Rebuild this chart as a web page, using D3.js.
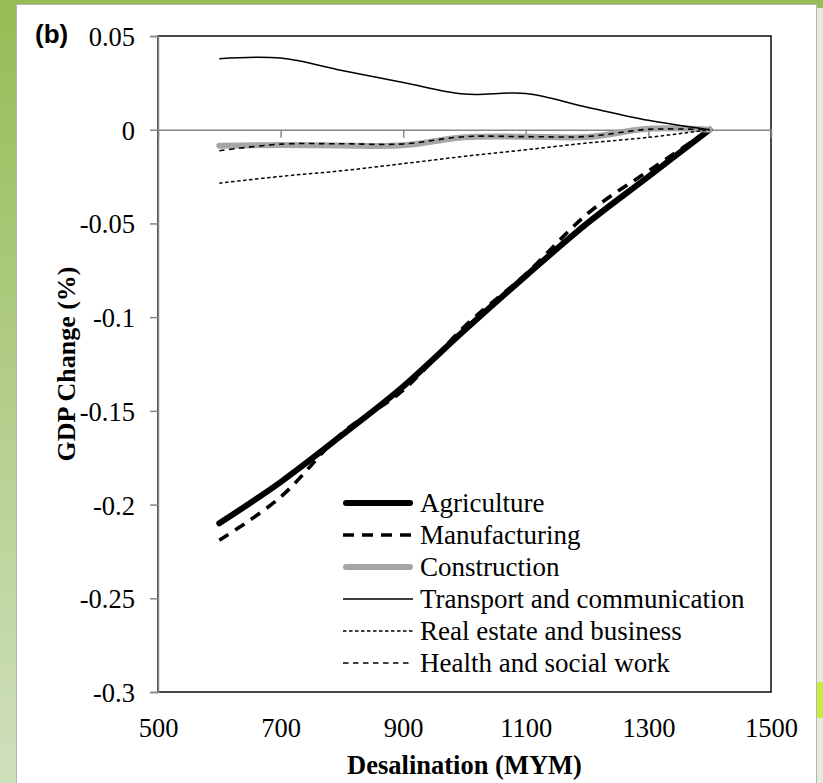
<!DOCTYPE html>
<html>
<head>
<meta charset="utf-8">
<title>GDP change vs desalination</title>
<script src="https://d3js.org/d3.v7.min.js"></script>
<style>
  body { margin: 0; background: #fff; }
  svg { display: block; }
  text { font-family: "Liberation Serif", "Times New Roman", serif; fill: #000; }
</style>
</head>
<body>
<div id="chart"></div>
<script>
// desalination investment (MYM)
const desal = [600, 700, 800, 900, 1000, 1100, 1200, 1300, 1400]

// GDP change (%) per sector
const agriculture   = [-0.210, -0.188, -0.163, -0.137, -0.107, -0.078, -0.050, -0.025, 0]
const manufacturing = [-0.219, -0.196, -0.162, -0.139, -0.105, -0.077, -0.045, -0.022, 0]
const construction  = [-0.0085, -0.0082, -0.0084, -0.0083, -0.0040, -0.0037, -0.0039, 0.0005, 0]
const transport     = [0.0379, 0.0382, 0.0316, 0.0252, 0.0190, 0.0193, 0.0120, 0.0050, 0]
const realEstate    = [-0.0285, -0.0249, -0.0219, -0.0181, -0.0142, -0.0107, -0.0071, -0.0041, 0]
const health        = [-0.0112, -0.0077, -0.0075, -0.0076, -0.0037, -0.0037, -0.0036, 0.0002, 0]

const sectorNames = ["Agriculture", "Manufacturing", "Construction",
  "Transport and communication", "Real estate and business", "Health and social work"]

const xTicks = [500, 700, 900, 1100, 1300, 1500]
const yTicks = [0.05, 0, -0.05, -0.1, -0.15, -0.2, -0.25, -0.3]
const yTickLabels = ["0.05", "0", "-0.05", "-0.1", "-0.15", "-0.2", "-0.25", "-0.3"]

const W = 823, H = 783
const plot = { left: 158, right: 771, top: 36, bottom: 692 }

const series = [
  { name: sectorNames[0], values: agriculture,   stroke: "#000",    width: 6,   dash: null,      cap: "round" },
  { name: sectorNames[1], values: manufacturing, stroke: "#000",    width: 3.6, dash: "11,8",    cap: "butt" },
  { name: sectorNames[2], values: construction,  stroke: "#a6a6a6", width: 6,   dash: null,      cap: "round" },
  { name: sectorNames[3], values: transport,     stroke: "#000",    width: 1.5, dash: null,      cap: "butt" },
  { name: sectorNames[4], values: realEstate,    stroke: "#000",    width: 1.5, dash: "3.5,2.5", cap: "butt" },
  { name: sectorNames[5], values: health,        stroke: "#000",    width: 1.6, dash: "5.5,4.5", cap: "butt" }
]

const svg = d3.select("#chart").append("svg")
  .attr("width", W).attr("height", H)

// slide background: green frame with white panel
const defs = svg.append("defs")
const grad = defs.append("linearGradient").attr("id", "leftGreen")
  .attr("x1", 0).attr("y1", 0).attr("x2", 0).attr("y2", 1)
grad.append("stop").attr("offset", "0%").attr("stop-color", "#96bc55")
grad.append("stop").attr("offset", "100%").attr("stop-color", "#cfe0bd")

svg.append("rect").attr("width", W).attr("height", H).attr("fill", "url(#leftGreen)")
svg.append("rect").attr("x", 817).attr("y", 8).attr("width", 6).attr("height", H - 8).attr("fill", "#e6ebe2")
svg.append("rect").attr("x", 817).attr("y", 682).attr("width", 6).attr("height", 36).attr("fill", "#c9ea3e")
svg.append("rect").attr("x", 16.5).attr("y", 4.5).attr("width", 800).attr("height", H)
  .attr("fill", "#fff").attr("stroke", "#b4b4b4").attr("stroke-width", 1)

const x = d3.scaleLinear().domain([500, 1500]).range([plot.left, plot.right])
const y = d3.scaleLinear().domain([-0.3, 0.05]).range([plot.bottom, plot.top])

// plot area border
svg.append("rect")
  .attr("x", plot.left).attr("y", plot.top)
  .attr("width", plot.right - plot.left).attr("height", plot.bottom - plot.top)
  .attr("fill", "none").attr("stroke", "#1a1a1a").attr("stroke-width", 1.6)

// y axis (grey, ticks outside)
const yAxis = d3.axisLeft(y).tickValues(yTicks)
  .tickFormat((d, i) => yTickLabels[i]).tickSize(8).tickPadding(15)
const gy = svg.append("g").attr("transform", `translate(${plot.left},0)`).call(yAxis)
gy.select(".domain").attr("stroke", "#868686").attr("stroke-width", 1.5)
gy.selectAll(".tick line").attr("stroke", "#868686").attr("stroke-width", 1.5)
gy.selectAll("text").attr("font-family", "Liberation Serif").attr("font-size", 26.5)
  .attr("dy", "0.36em")

// x axis crossing at zero: line and ticks only
const xAxisZero = d3.axisBottom(x).tickValues(xTicks).tickFormat("").tickSize(8).tickSizeOuter(0)
const gx0 = svg.append("g").attr("transform", `translate(0,${y(0)})`).call(xAxisZero)
gx0.select(".domain").attr("stroke", "#868686").attr("stroke-width", 1.5)
gx0.selectAll(".tick line").attr("stroke", "#868686").attr("stroke-width", 1.5)

// x tick labels sit low, under the plot area
const xAxisLow = d3.axisBottom(x).tickValues(xTicks).tickFormat(d3.format("d")).tickSize(0).tickPadding(26)
const gx = svg.append("g").attr("transform", `translate(0,${plot.bottom})`).call(xAxisLow)
gx.select(".domain").remove()
gx.selectAll("text").attr("font-family", "Liberation Serif").attr("font-size", 26.5)

// lines (Excel-style smoothing)
const line = d3.line()
  .x((d, i) => x(desal[i]))
  .y(d => y(d))
  .curve(d3.curveCardinal.tension(0))

svg.append("g").selectAll("path")
  .data(series)
  .join("path")
  .attr("d", d => line(d.values))
  .attr("fill", "none")
  .attr("stroke", d => d.stroke)
  .attr("stroke-width", d => d.width)
  .attr("stroke-dasharray", d => d.dash)
  .attr("stroke-linecap", d => d.cap)
  .attr("stroke-linejoin", "round")

// legend
const legend = svg.append("g").attr("transform", "translate(343,503)")
const rows = legend.selectAll("g").data(series).join("g")
  .attr("transform", (d, i) => `translate(0,${i * 32})`)
rows.append("line")
  .attr("x1", d => d.cap === "round" ? 3 : 0).attr("x2", d => d.cap === "round" ? 67 : 70)
  .attr("stroke", d => d.stroke)
  .attr("stroke-width", d => d.width)
  .attr("stroke-dasharray", d => d.dash)
  .attr("stroke-linecap", d => d.cap)
rows.append("text")
  .attr("x", 77).attr("dy", "0.33em")
  .attr("font-size", 27)
  .text(d => d.name)

// axis titles
svg.append("text")
  .attr("x", (plot.left + plot.right) / 2).attr("y", 774)
  .attr("text-anchor", "middle")
  .attr("font-weight", "bold").attr("font-size", 26.5)
  .text("Desalination (MYM)")

svg.append("text")
  .attr("transform", `translate(75,${(plot.top + plot.bottom) / 2}) rotate(-90)`)
  .attr("text-anchor", "middle")
  .attr("font-weight", "bold").attr("font-size", 26)
  .text("GDP Change (%)")

// panel label
svg.append("text")
  .attr("x", 35).attr("y", 43)
  .attr("style", "font-family: 'Liberation Sans', Arial, sans-serif")
  .attr("font-weight", "bold").attr("font-size", 26)
  .text("(b)")
</script>
</body>
</html>
